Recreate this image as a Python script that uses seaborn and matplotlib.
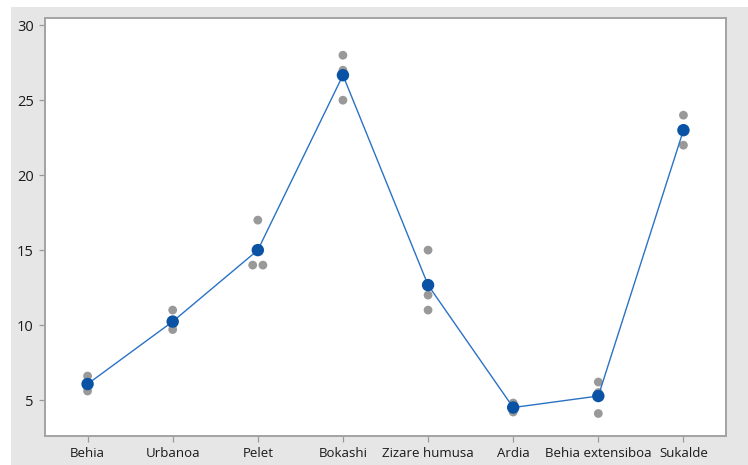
import numpy as np
import pandas as pd
import matplotlib
matplotlib.use("Agg")
import matplotlib.pyplot as plt
from matplotlib.patches import Rectangle
import seaborn as sns

# Categories and the three individual measurements of each
categories = ["Behia", "Urbanoa", "Pelet", "Bokashi", "Zizare humusa",
              "Ardia", "Behia extensiboa", "Sukalde"]
behia = [6.6, 6.0, 5.6]
urbanoa = [11.0, 10.0, 9.7]
pelet = [17.0, 14.0, 14.0]
bokashi = [28.0, 27.0, 25.0]
zizare_humusa = [15.0, 12.0, 11.0]
ardia = [4.8, 4.5, 4.2]
behia_extensiboa = [6.2, 5.5, 4.1]
sukalde = [24.0, 23.0, 22.0]
y_ticks = [5, 10, 15, 20, 25, 30]

series = [behia, urbanoa, pelet, bokashi, zizare_humusa, ardia,
          behia_extensiboa, sukalde]

df = pd.DataFrame({
    "group": np.repeat(categories, [len(s) for s in series]),
    "value": np.concatenate(series),
})
df["group"] = pd.Categorical(df["group"], categories=categories, ordered=True)
df["pos"] = df["group"].cat.codes.astype(float)

# spread identical values sideways so they don't hide each other
dup_rank = df.groupby(["group", "value"], observed=True).cumcount()
dup_n = df.groupby(["group", "value"], observed=True)["value"].transform("size")
df["xpos"] = df["pos"] + (dup_rank - (dup_n - 1) / 2) * 0.12

means = df.groupby("group", observed=True)["value"].mean().reset_index()
means["pos"] = means["group"].cat.codes.astype(float)

sns.set_theme(style="white")
plt.rcParams["font.family"] = ["Open Sans", "DejaVu Sans"]

fig = plt.figure(figsize=(7.48, 4.65), dpi=100, facecolor="white")
# grey panel behind the plotting area
fig.patches.append(Rectangle((11 / 748, 0), 1, 1 - 7 / 465,
                             transform=fig.transFigure, facecolor="#e6e6e6",
                             edgecolor="none", zorder=-10))
ax = fig.add_axes([45 / 748, 1 - 436 / 465, (726 - 45) / 748, (436 - 18.5) / 465])
ax.set_facecolor("white")

sns.scatterplot(data=df, x="xpos", y="value", ax=ax, color="#999999",
                s=40, edgecolor="none", linewidth=0, zorder=2)
sns.lineplot(data=means, x="pos", y="value", ax=ax, color="#2a72c4",
             linewidth=1.0, zorder=3)
sns.scatterplot(data=means, x="pos", y="value", ax=ax, color="#0a52a3",
                s=80, edgecolor="none", linewidth=0, zorder=4)

ax.set_xlim(-0.5, len(categories) - 0.5)
ax.set_ylim(2.6, 30.45)
ax.set_xticks(range(len(categories)))
ax.set_xticklabels(categories)
ax.set_yticks(y_ticks)
ax.set_yticklabels([str(t) for t in y_ticks])
ax.set_xlabel("")
ax.set_ylabel("")

for sp in ax.spines.values():
    sp.set_visible(True)
    sp.set_color("#a3a3a3")
    sp.set_linewidth(1.4)

ax.tick_params(axis="both", which="major", direction="out", length=4,
               width=0.9, color="#9a9a9a", labelcolor="#1a1a1a", pad=4,
               bottom=True, left=True)
ax.tick_params(axis="x", labelsize=9.5)
ax.tick_params(axis="y", labelsize=10.5)
for lab in ax.get_xticklabels() + ax.get_yticklabels():
    lab.set_fontweight("medium")

fig.savefig("out.png", dpi=100, facecolor=fig.get_facecolor())
